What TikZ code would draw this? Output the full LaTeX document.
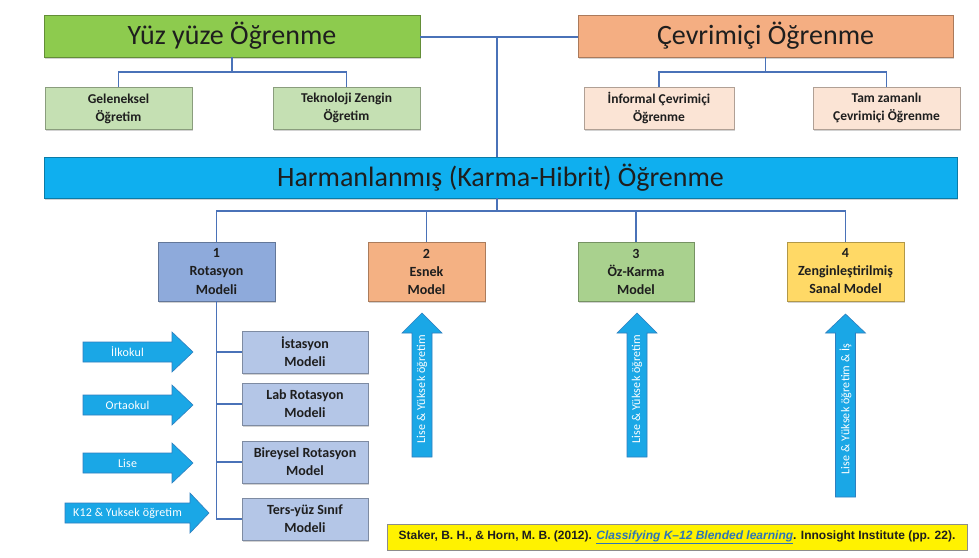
\documentclass[tikz,border=0pt]{standalone}
\usepackage{fontspec}
\setmainfont{Carlito}
\newfontfamily\arialf{Liberation Sans}
\usetikzlibrary{shadows}
\definecolor{bigGreen}{HTML}{8DCB4E}
\definecolor{bigOrange}{HTML}{F4AE82}
\definecolor{lightGreen}{HTML}{C5E0B3}
\definecolor{lightPeach}{HTML}{FBE4D5}
\definecolor{harmBlue}{HTML}{0FAFEF}
\definecolor{rotBlue}{HTML}{8EAADB}
\definecolor{esnekOr}{HTML}{F4B183}
\definecolor{ozGreen}{HTML}{A9D18E}
\definecolor{zengYel}{HTML}{FFD966}
\definecolor{subBlue}{HTML}{B4C6E7}
\definecolor{arrFill}{HTML}{1AA7E6}
\definecolor{arrLine}{HTML}{2F7FBF}
\definecolor{lineBlue}{HTML}{4A72B8}
\definecolor{txt}{HTML}{1E1E1E}
\definecolor{citeLink}{HTML}{2E75B6}
\newcommand\myHarrow[6]{%
  \path[arrowsty] (#1,#4-10) -- (#2,#4-10) -- (#2,#4-20) -- (#3,#4) -- (#2,#4+20) -- (#2,#4+10) -- (#1,#4+10) -- cycle;
  \node[arrowtxt] (#5) at ({(#1+#2)/2},#4) {#6};}
\newcommand\myVarrow[6]{%
  \path[arrowsty] (#1-10,#4) -- (#1-10,#3) -- (#1-20,#3) -- (#1,#2) -- (#1+20,#3) -- (#1+10,#3) -- (#1+10,#4) -- cycle;
  \node[arrowtxt, rotate=90] (#5) at (#1,{(#3+#4)/2-6}) {#6};}
\begin{document}
\begin{tikzpicture}[x=1pt,y=-1pt,
  conn/.style={draw=lineBlue, line width=1.8pt},
  box/.style={draw=#1!70!black, line width=0.6pt, fill=#1, inner sep=0pt, align=center, text=txt,
     drop shadow={shadow xshift=0.6pt, shadow yshift=-1.6pt, opacity=0.35}},
  bigtext/.style={font=\fontsize{28}{30}\selectfont},
  smalltext/.style={font=\bfseries\fontsize{13.5}{18}\selectfont},
  modeltext/.style={font=\bfseries\fontsize{14}{18}\selectfont},
  arrowsty/.style={fill=arrFill, draw=arrLine, line width=0.6pt},
  arrowtxt/.style={text=white, inner sep=0pt, font=\fontsize{12}{13}\selectfont\addfontfeatures{LetterSpace=1.5}}]
\useasboundingbox[fill=white] (0,0) rectangle (979,557);

% top level
\node[box=bigGreen, bigtext, minimum width=376, minimum height=42] (yuz) at (232,36) {Yüz yüze Öğrenme};
\node[box=bigOrange, bigtext, minimum width=375, minimum height=42] (cev) at (765.5,36) {Çevrimiçi Öğrenme};
\node[box=lightGreen, smalltext, minimum width=147, minimum height=42] (gel) at (118.5,108.5) {Geleneksel\\Öğretim};
\node[box=lightGreen, smalltext, minimum width=147, minimum height=42] (tek) at (346.5,108) {Teknoloji Zengin\\Öğretim};
\node[box=lightPeach, smalltext, minimum width=150, minimum height=42] (inf) at (659,108) {İnformal Çevrimiçi\\Öğrenme};
\node[box=lightPeach, smalltext, minimum width=147, minimum height=42] (tam) at (886.5,108) {Tam zamanlı\\Çevrimiçi Öğrenme};
\node[box=harmBlue, bigtext, minimum width=913, minimum height=41] (harm) at (500.5,177.5) {Harmanlanmış (Karma-Hibrit) Öğrenme};

\coordinate (J) at (497,37);
\coordinate (hb) at (497,211);
\draw[conn] (yuz.east |- J) -- (cev.west |- J);
\draw[conn] (J) -- (J |- harm.north);
\draw[conn] (yuz.south) -- ++(0,15) -| (gel.north);
\draw[conn] (yuz.south) -- ++(0,15) -| (tek.north);
\draw[conn] (cev.south) -- ++(0,15) -| (inf.north);
\draw[conn] (cev.south) -- ++(0,15) -| (tam.north);
\draw[conn] (J |- harm.south) -- (hb);

% models
\node[box=rotBlue, modeltext, minimum width=117, minimum height=59] (m1) at (216.5,271.5) {1\\Rotasyon\\Modeli};
\node[box=esnekOr, modeltext, minimum width=117, minimum height=59] (m2) at (426.5,271.5) {2\\Esnek\\Model};
\node[box=ozGreen, modeltext, minimum width=116, minimum height=59] (m3) at (636,271.5) {3\\Öz-Karma\\Model};
\node[box=zengYel, modeltext, minimum width=117, minimum height=59] (m4) at (845.5,271.5) {4\\Zenginleştirilmiş\\Sanal Model};
\draw[conn] (m1.north) -- (m1.north |- hb) -- (m4.north |- hb) -- (m4.north);
\draw[conn] (m2.north) -- (m2.north |- hb);
\draw[conn] (m3.north) -- (m3.north |- hb);

% rotation sub-models
\node[box=subBlue, modeltext, minimum width=126, minimum height=42] (s1) at (305,352) {İstasyon\\Modeli};
\node[box=subBlue, modeltext, minimum width=126, minimum height=42] (s2) at (305,404) {Lab Rotasyon\\Modeli};
\node[box=subBlue, modeltext, minimum width=126, minimum height=42] (s3) at (305,462) {Bireysel Rotasyon\\Model};
\node[box=subBlue, modeltext, minimum width=126, minimum height=42] (s4) at (305,519) {Ters-yüz Sınıf\\Modeli};
\draw[conn] (m1.south) |- (s4.west);
\draw[conn] (s1.west) -- (m1.south |- s1.west);
\draw[conn] (s2.west) -- (m1.south |- s2.west);
\draw[conn] (s3.west) -- (m1.south |- s3.west);

% left arrows
\myHarrow{83}{172}{193}{352}{a1}{İlkokul}
\myHarrow{83}{172}{193}{405}{a2}{Ortaokul}
\myHarrow{83}{172}{193}{463}{a3}{Lise}
\myHarrow{65}{190}{209}{513}{a4}{K12 \& Yuksek öğretim}

% up arrows
\myVarrow{422}{313}{333}{457}{v1}{Lise \& Yüksek öğretim}
\myVarrow{637}{313}{333}{457}{v2}{Lise \& Yüksek öğretim}
\myVarrow{845.5}{314}{333}{497}{v3}{Lise \& Yüksek öğretim \& İş}

% citation
\node[fill=yellow, draw=black!45, line width=0.6pt, minimum width=580, minimum height=26, inner sep=0pt,
      font=\arialf\bfseries\fontsize{12}{13}\selectfont, text=txt] (cite) at (677,537.5)
  {Staker, B. H., \& Horn, M. B. (2012). \textcolor{citeLink}{\underline{\itshape Classifying K–12 Blended learning}}. Innosight Institute (pp. 22).};
\end{tikzpicture}
\end{document}
